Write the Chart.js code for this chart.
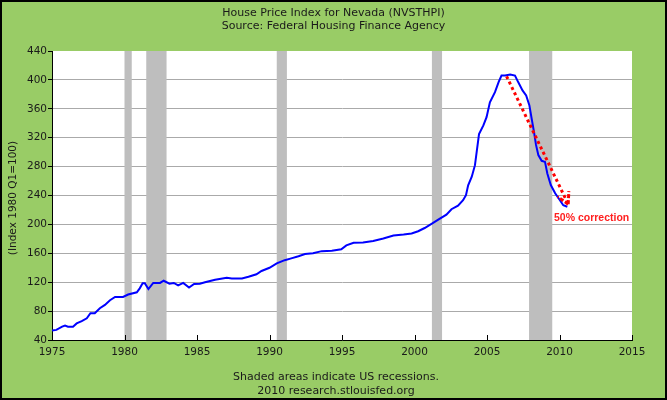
<!DOCTYPE html>
<html>
<head>
<meta charset="utf-8">
<script src="https://cdn.jsdelivr.net/npm/chart.js@4.4.1/dist/chart.umd.min.js"></script>
<style>
    html, body { margin: 0; padding: 0; background: #99cc66; }
    canvas { display: block; }
</style>
</head>
<body>
<canvas id="grafikNevada" width="667" height="400"></canvas>
<script>
// Data (tahun desimal, indeks 1980 Q1 = 100)
const tahun = [
    1975.0, 1975.3, 1975.7, 1975.9, 1976.1, 1976.45, 1976.7, 1977.05, 1977.4, 1977.65,
    1977.95, 1978.3, 1978.65, 1979.0, 1979.35, 1979.9, 1980.25, 1980.85, 1981.05, 1981.25,
    1981.4, 1981.65, 1981.98, 1982.45, 1982.7, 1983.1, 1983.4, 1983.7, 1984.05, 1984.45,
    1984.8, 1985.2, 1985.55, 1986.25, 1987.05, 1987.4, 1988.1, 1988.55, 1989.1, 1989.45,
    1990.0, 1990.5, 1991.05, 1991.5, 1992.0, 1992.45, 1993.0, 1993.6, 1994.3, 1994.95,
    1995.3, 1995.8, 1996.45, 1997.15, 1997.85, 1998.55, 1999.25, 1999.8, 2000.25, 2000.7,
    2001.2, 2001.75, 2002.2, 2002.55, 2003.0, 2003.35, 2003.55, 2003.7, 2003.95, 2004.17,
    2004.3, 2004.45, 2004.75, 2004.97, 2005.2, 2005.55, 2005.8, 2006.0, 2006.25, 2006.6,
    2006.93, 2007.15, 2007.45, 2007.7, 2007.92, 2008.08, 2008.24, 2008.38, 2008.54, 2008.77,
    2009.0, 2009.16, 2009.4, 2009.7, 2010.03, 2010.26, 2010.54
];
const indeksHarga = [
    53, 54, 58.5, 60, 58.5, 58.5, 63, 66, 70, 77,
    77, 84, 88.5, 95, 99.5, 99.5, 103, 106, 111.5, 118.5,
    118.5, 110.5, 119, 119, 122, 118, 119, 115.5, 119, 112.5,
    117.5, 118, 120, 123.5, 126, 125, 125, 127.5, 131, 135.5,
    140, 146, 150.5, 153, 156, 159, 160, 163, 163.5, 165.5,
    171, 174.5, 175, 177, 180.5, 184.5, 186, 187.5, 190.5, 195,
    201, 208, 213.5, 221, 226, 233.5, 240.5, 254, 266, 282,
    302, 325, 337, 348.5, 369, 383, 397, 406, 406, 407.5,
    406, 397, 385.5, 378.5, 365, 346.5, 328, 310, 296, 288,
    286.5, 270.5, 254.5, 243, 233.5, 226.5, 224.5
];

// Resesi AS (awal, akhir)
const resesi = [
    [1980.0, 1980.5],
    [1981.5, 1982.9],
    [1990.5, 1991.2],
    [2001.2, 2001.9],
    [2007.9, 2009.5]
];

// Panah koreksi 50% (tahun, indeks)
const panahKoreksi = [[2006.35, 405], [2010.6, 228]];
const labelKoreksi = { x: 2009.62, y: 209, teks: '50% correction' };

const judul = ['House Price Index for Nevada (NVSTHPI)', 'Source: Federal Housing Finance Agency'];
const catatanBawah = ['Shaded areas indicate US recessions.', '2010 research.stlouisfed.org'];
const judulSumbuY = '(Index 1980 Q1=100)';

const hijau = '#99cc66';
const fontDasar = '"DejaVu Sans", Verdana, sans-serif';

// Latar belakang, area plot putih, dan pita resesi
const pluginLatar = {
    id: 'latar',
    beforeDraw(chart) {
        const ctx = chart.ctx, a = chart.chartArea;
        ctx.save();
        ctx.fillStyle = hijau;
        ctx.fillRect(0, 0, chart.width, chart.height);
        ctx.fillStyle = '#ffffff';
        ctx.fillRect(a.left, a.top, a.right - a.left, a.bottom - a.top);
        ctx.restore();
    },
    beforeDatasetsDraw(chart) {
        const ctx = chart.ctx, a = chart.chartArea, x = chart.scales.x;
        ctx.save();
        ctx.fillStyle = '#bebebe';
        resesi.forEach(function(r) {
            const x1 = x.getPixelForValue(r[0]);
            const x2 = x.getPixelForValue(r[1]);
            ctx.fillRect(x1, a.top, x2 - x1, a.bottom - a.top);
        });
        ctx.restore();
    }
};

// Teks, tick sumbu x ke dalam, panah merah, bingkai
const pluginTeks = {
    id: 'teks',
    afterDatasetsDraw(chart) {
        const ctx = chart.ctx, x = chart.scales.x, y = chart.scales.y, a = chart.chartArea;
        ctx.save();

        // tick x mengarah ke dalam plot
        ctx.strokeStyle = '#000000';
        ctx.lineWidth = 1;
        x.ticks.forEach(function(t) {
            const px = Math.round(x.getPixelForValue(t.value)) + 0.5;
            ctx.beginPath();
            ctx.moveTo(px, a.bottom);
            ctx.lineTo(px, a.bottom - 5);
            ctx.stroke();
        });

        // panah putus-putus
        const x1 = x.getPixelForValue(panahKoreksi[0][0]), y1 = y.getPixelForValue(panahKoreksi[0][1]);
        const x2 = x.getPixelForValue(panahKoreksi[1][0]), y2 = y.getPixelForValue(panahKoreksi[1][1]);
        const sudut = Math.atan2(y2 - y1, x2 - x1);
        ctx.strokeStyle = '#ff0000';
        ctx.lineWidth = 3;
        ctx.setLineDash([3, 3]);
        ctx.beginPath();
        ctx.moveTo(x1, y1);
        ctx.lineTo(x2, y2);
        ctx.stroke();
        ctx.setLineDash([4, 2]);
        ctx.beginPath();
        ctx.moveTo(x2, y2);
        ctx.lineTo(x2 - 13 * Math.cos(sudut - 0.5), y2 - 13 * Math.sin(sudut - 0.5));
        ctx.moveTo(x2, y2);
        ctx.lineTo(x2 - 13 * Math.cos(sudut + 0.5), y2 - 13 * Math.sin(sudut + 0.5));
        ctx.stroke();
        ctx.setLineDash([]);

        ctx.fillStyle = '#ff2020';
        ctx.font = 'bold 10.5px "Liberation Sans", Arial, sans-serif';
        ctx.textAlign = 'left';
        ctx.textBaseline = 'middle';
        ctx.fillText(labelKoreksi.teks, x.getPixelForValue(labelKoreksi.x), y.getPixelForValue(labelKoreksi.y));
        ctx.restore();
    },
    afterDraw(chart) {
        const ctx = chart.ctx;
        ctx.save();
        ctx.fillStyle = '#1a1a1a';
        ctx.font = '11px ' + fontDasar;
        ctx.textAlign = 'center';
        ctx.textBaseline = 'middle';
        ctx.fillText(judul[0], 333.5, 13);
        ctx.fillText(judul[1], 333.5, 26);
        ctx.fillText(catatanBawah[0], 336, 377);
        ctx.fillText(catatanBawah[1], 336, 391);

        ctx.font = '10.5px ' + fontDasar;
        ctx.translate(13, 198);
        ctx.rotate(-Math.PI / 2);
        ctx.fillText(judulSumbuY, 0, 0);
        ctx.restore();

        // bingkai luar
        ctx.save();
        ctx.strokeStyle = '#000000';
        ctx.lineWidth = 2;
        ctx.strokeRect(1, 1, chart.width - 2, chart.height - 2);
        ctx.restore();
    }
};

let chartNevada = new Chart(document.getElementById('grafikNevada').getContext('2d'), {
    type: 'line',
    data: {
        labels: tahun,
        datasets: [{
            label: 'NVSTHPI',
            data: tahun.map(function(t, i) { return { x: t, y: indeksHarga[i] }; }),
            borderColor: '#0000ff',
            borderWidth: 2,
            pointRadius: 0, // tanpa titik
            tension: 0,
            fill: false
        }]
    },
    options: {
        responsive: false,
        animation: false,
        layout: {
            padding: { left: 0, right: 35, top: 51, bottom: 40 }
        },
        scales: {
            x: {
                type: 'linear',
                min: 1975,
                max: 2015,
                afterFit: function(scale) { scale.height = 20; },
                ticks: {
                    stepSize: 5,
                    padding: 6,
                    color: '#1a1a1a',
                    font: { family: fontDasar, size: 10.5 },
                    maxRotation: 0,
                    callback: function(value) {
                        return String(value);
                    }
                },
                grid: { drawOnChartArea: false, drawTicks: false },
                border: { display: true, color: '#000000', width: 1 }
            },
            y: {
                min: 40,
                max: 440,
                afterFit: function(scale) { scale.width = 52; },
                ticks: {
                    stepSize: 40,
                    padding: 1,
                    color: '#1a1a1a',
                    font: { family: fontDasar, size: 10.5 },
                    callback: function(value) {
                        return value;
                    }
                },
                grid: {
                    color: function(context) {
                        return context.tick && context.tick.value === 440 ? 'rgba(0,0,0,0)' : '#aaaaaa';
                    },
                    tickColor: '#000000',
                    tickLength: 4
                },
                border: { display: true, color: '#000000', width: 1 }
            }
        },
        plugins: {
            legend: { display: false },
            tooltip: { enabled: false }
        }
    },
    plugins: [pluginLatar, pluginTeks]
});
</script>
</body>
</html>
